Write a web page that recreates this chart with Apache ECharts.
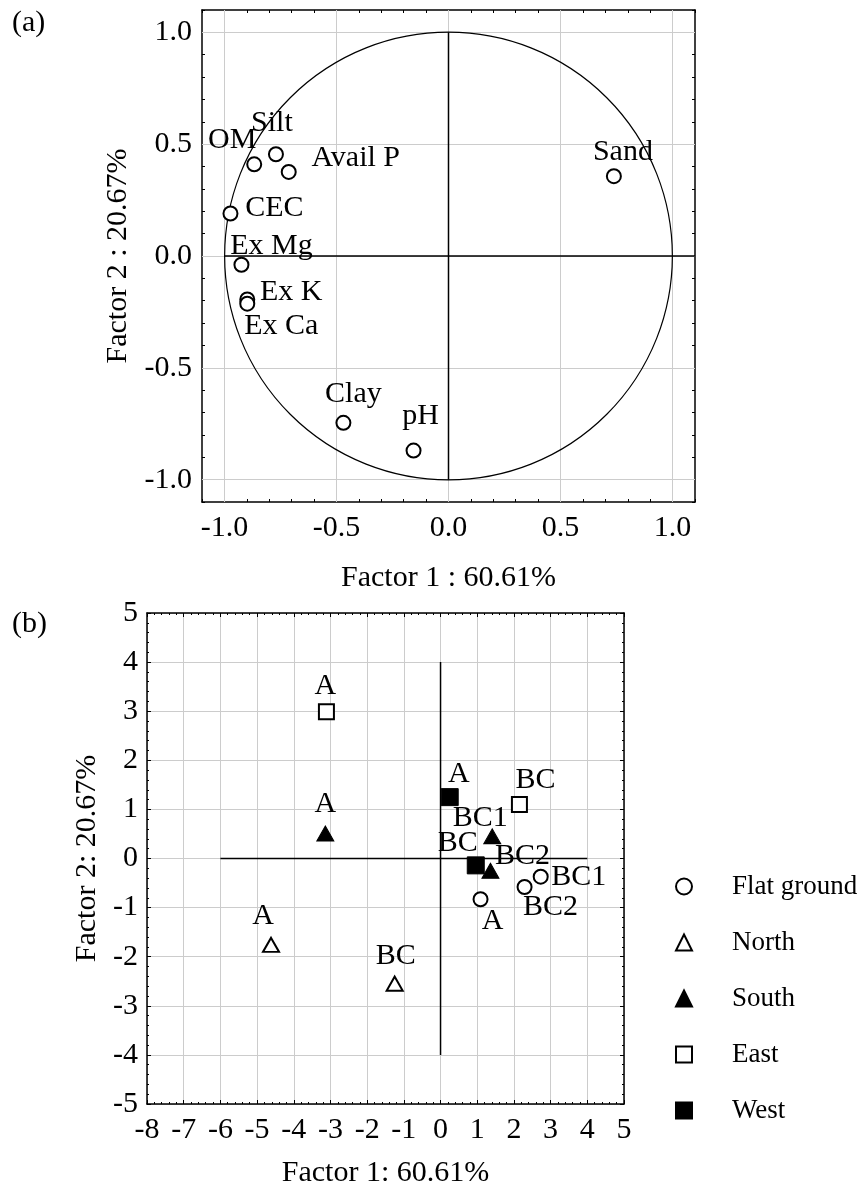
<!DOCTYPE html>
<html><head><meta charset="utf-8">
<script src="https://cdn.jsdelivr.net/npm/echarts@6/dist/echarts.min.js"></script>
<style>html,body{margin:0;padding:0;background:#fff}#c{width:862px;height:1189px}</style>
</head><body><div id="c"></div>
<script>
// ---------- Panel (a): variable loadings ----------
const varNames = ['OM', 'Silt', 'Avail P', 'Sand', 'CEC', 'Ex Mg', 'Ex K', 'Ex Ca', 'Clay', 'pH'];
const varF1 = [-0.867, -0.770, -0.713, 0.738, -0.973, -0.924, -0.898, -0.898, -0.469, -0.156];
const varF2 = [0.410, 0.455, 0.376, 0.357, 0.190, -0.039, -0.194, -0.213, -0.746, -0.870];

// ---------- Panel (b): sample scores ----------
const groupNames = ['Flat ground', 'North', 'South', 'East', 'West'];
const flatNames = ['BC1', 'BC2', 'A'];
const flatF1 = [2.73, 2.29, 1.09];
const flatF2 = [-0.37, -0.58, -0.83];
const northNames = ['A', 'BC'];
const northF1 = [-4.62, -1.25];
const northF2 = [-1.76, -2.55];
const southNames = ['A', 'BC1', 'BC2'];
const southF1 = [-3.14, 1.41, 1.36];
const southF2 = [0.51, 0.45, -0.25];
const eastNames = ['A', 'BC'];
const eastF1 = [-3.11, 2.15];
const eastF2 = [2.99, 1.10];
const westNames = ['A', 'BC'];
const westF1 = [0.25, 0.96];
const westF2 = [1.25, -0.14];

// ---------- Tick labels ----------
const ticksAX = ['-1.0', '-0.5', '0.0', '0.5', '1.0'];
const ticksAY = ['-1.0', '-0.5', '0.0', '0.5', '1.0'];
const ticksBX = ['-8', '-7', '-6', '-5', '-4', '-3', '-2', '-1', '0', '1', '2', '3', '4', '5'];
const ticksBY = ['-5', '-4', '-3', '-2', '-1', '0', '1', '2', '3', '4', '5'];

// ---------- Layout (label offsets in px) ----------
const varLabelOffsets = [[-22, -24], [-4, -31], [67, -14], [9, -24], [44, -5], [30, -19], [44, -7], [34, 22], [10, -29], [7, -34]];
const flatLabelOffsets = [[38, 0], [26, 20], [12, 22]];
const northLabelOffsets = [[-8, -29], [1, -28]];
const southLabelOffsets = [[0, -29], [-12, -18], [32, -15]];
const eastLabelOffsets = [[-1, -26], [16, -24]];
const westLabelOffsets = [[9, -23], [-18, -22]];

const FONT = "'Liberation Serif', 'Times New Roman', serif";
const GRIDC = '#cccccc';

function pts(xs, ys, names, offs) {
  return xs.map((x, i) => ({
    value: [x, ys[i]], name: names[i],
    label: { offset: offs[i] }
  }));
}
const labelBase = { show: true, position: 'inside', formatter: p => p.name, color: '#000', fontSize: 30, fontFamily: FONT, textBorderWidth: 0 };

function fmt(list, digits) {
  return v => { const s = digits ? v.toFixed(digits) : String(Math.round(v)); return list.includes(s) ? s : ''; };
}

function axis(o) {
  const base = {
    type: 'value', gridIndex: o.grid, min: o.min, max: o.max, interval: o.interval, position: o.pos,
    axisLine: { onZero: false, lineStyle: { color: '#000', width: 1.5 } },
    axisTick: { show: true, inside: true, length: o.tick, lineStyle: { color: '#000', width: 1 } },
    axisLabel: { show: !!o.labels, margin: o.margin || 10, color: '#000', fontSize: 30, fontFamily: FONT, formatter: o.labels ? fmt(o.labels, o.digits) : '' },
    splitLine: { show: !!o.split, lineStyle: { color: GRIDC, width: 1 } },
    minorTick: { show: !!o.minor, splitNumber: 5, length: 2, lineStyle: { color: '#000' } },
    minorSplitLine: { show: false }
  };
  if (o.name) {
    base.name = o.name; base.nameLocation = 'middle'; base.nameGap = o.nameGap;
    base.nameTextStyle = { color: '#000', fontSize: 30, fontFamily: FONT };
  }
  return base;
}

const chart = echarts.init(document.getElementById('c'), null, { renderer: 'canvas' });
const gridValsA = ticksAX.map(Number);
const openStyle = { color: '#fff', borderColor: '#000', borderWidth: 2, opacity: 1 };
const fillStyle = { color: '#000', borderColor: '#000', borderWidth: 1, opacity: 1 };
const option = {
  animation: false,
  backgroundColor: '#fff',
  title: [
    { text: '(a)', left: 12, top: 8, padding: 0, textStyle: { fontSize: 30, fontWeight: 'normal', fontFamily: FONT, color: '#000' } },
    { text: '(b)', left: 12, top: 609, padding: 0, textStyle: { fontSize: 30, fontWeight: 'normal', fontFamily: FONT, color: '#000' } }
  ],
  grid: [
    { left: 202, top: 10, width: 493, height: 492 },
    { left: 147, top: 613, width: 477, height: 491 }
  ],
  xAxis: [
    axis({ grid: 0, min: -1.1, max: 1.1, interval: 0.1, pos: 'bottom', tick: 3, labels: ticksAX, digits: 1, margin: 11, name: 'Factor 1 : 60.61%', nameGap: 61 }),
    axis({ grid: 0, min: -1.1, max: 1.1, interval: 0.1, pos: 'top', tick: 3 }),
    axis({ grid: 1, min: -8, max: 5, interval: 1, pos: 'bottom', tick: 4, minor: true, split: true, labels: ticksBX, margin: 11, name: 'Factor 1: 60.61%', nameGap: 54 }),
    axis({ grid: 1, min: -8, max: 5, interval: 1, pos: 'top', tick: 4, minor: true })
  ],
  yAxis: [
    axis({ grid: 0, min: -1.1, max: 1.1, interval: 0.1, pos: 'left', tick: 3, labels: ticksAY, digits: 1, margin: 10, name: 'Factor 2 : 20.67%', nameGap: 67 }),
    axis({ grid: 0, min: -1.1, max: 1.1, interval: 0.1, pos: 'right', tick: 3 }),
    axis({ grid: 1, min: -5, max: 5, interval: 1, pos: 'left', tick: 4, minor: true, split: true, labels: ticksBY, margin: 9, name: 'Factor 2: 20.67%', nameGap: 45 }),
    axis({ grid: 1, min: -5, max: 5, interval: 1, pos: 'right', tick: 4, minor: true })
  ],
  legend: {
    data: groupNames, orient: 'vertical', left: 670, top: 868,
    itemWidth: 16, itemHeight: 16, itemGap: 29,
    textStyle: { fontSize: 27, fontFamily: FONT, color: '#000', padding: [0, 0, 0, 35] }
  },
  series: [
    // panel (a) grid lines
    {
      type: 'line', xAxisIndex: 0, yAxisIndex: 0, data: [], silent: true, z: 1,
      markLine: {
        z: 1, silent: true, symbol: ['none', 'none'], label: { show: false }, animation: false,
        lineStyle: { color: GRIDC, width: 1, type: 'solid' },
        emphasis: { disabled: true },
        data: gridValsA.map(v => ({ xAxis: v })).concat(gridValsA.map(v => ({ yAxis: v })))
      }
    },
    // panel (a) unit circle
    {
      type: 'custom', xAxisIndex: 0, yAxisIndex: 0, data: [[0, 0, 1]], silent: true, z: 3,
      renderItem: (params, api) => {
        const c = api.coord([api.value(0), api.value(1)]);
        const s = api.size([api.value(2), api.value(2)]);
        return { type: 'circle', shape: { cx: c[0], cy: c[1], r: (s[0] + s[1]) / 2 }, style: { fill: 'none', stroke: '#000', lineWidth: 1.2 } };
      }
    },
    // panel (a) cross lines
    { type: 'line', xAxisIndex: 0, yAxisIndex: 0, data: [[-1, 0], [1.1, 0]], symbol: 'none', silent: true, z: 6, lineStyle: { color: '#000', width: 1.5 } },
    { type: 'line', xAxisIndex: 0, yAxisIndex: 0, data: [[0, -1], [0, 1]], symbol: 'none', silent: true, z: 6, lineStyle: { color: '#000', width: 1.5 } },
    // panel (a) variables
    {
      name: 'Variables', type: 'scatter', xAxisIndex: 0, yAxisIndex: 0, z: 7,
      symbol: 'circle', symbolSize: 14,
      itemStyle: openStyle,
      label: labelBase,
      data: pts(varF1, varF2, varNames, varLabelOffsets)
    },
    // panel (b) cross lines
    { type: 'line', xAxisIndex: 2, yAxisIndex: 2, data: [[-6, 0], [4, 0]], symbol: 'none', silent: true, z: 6, lineStyle: { color: '#000', width: 1.5 } },
    { type: 'line', xAxisIndex: 2, yAxisIndex: 2, data: [[0, -4], [0, 4]], symbol: 'none', silent: true, z: 6, lineStyle: { color: '#000', width: 1.5 } },
    // panel (b) groups
    {
      name: 'Flat ground', type: 'scatter', xAxisIndex: 2, yAxisIndex: 2, z: 7, symbol: 'circle', symbolSize: 14,
      itemStyle: openStyle, label: labelBase,
      data: pts(flatF1, flatF2, flatNames, flatLabelOffsets)
    },
    {
      name: 'North', type: 'scatter', xAxisIndex: 2, yAxisIndex: 2, z: 7, symbol: 'triangle', symbolSize: [16, 14],
      itemStyle: openStyle, label: labelBase,
      data: pts(northF1, northF2, northNames, northLabelOffsets)
    },
    {
      name: 'South', type: 'scatter', xAxisIndex: 2, yAxisIndex: 2, z: 7, symbol: 'triangle', symbolSize: [17, 15],
      itemStyle: fillStyle, label: labelBase,
      data: pts(southF1, southF2, southNames, southLabelOffsets)
    },
    {
      name: 'East', type: 'scatter', xAxisIndex: 2, yAxisIndex: 2, z: 7, symbol: 'rect', symbolSize: 15,
      itemStyle: openStyle, label: labelBase,
      data: pts(eastF1, eastF2, eastNames, eastLabelOffsets)
    },
    {
      name: 'West', type: 'scatter', xAxisIndex: 2, yAxisIndex: 2, z: 7, symbol: 'rect', symbolSize: 17,
      itemStyle: fillStyle, label: labelBase,
      data: pts(westF1, westF2, westNames, westLabelOffsets)
    }
  ]
};
chart.setOption(option);
</script>
</body></html>
